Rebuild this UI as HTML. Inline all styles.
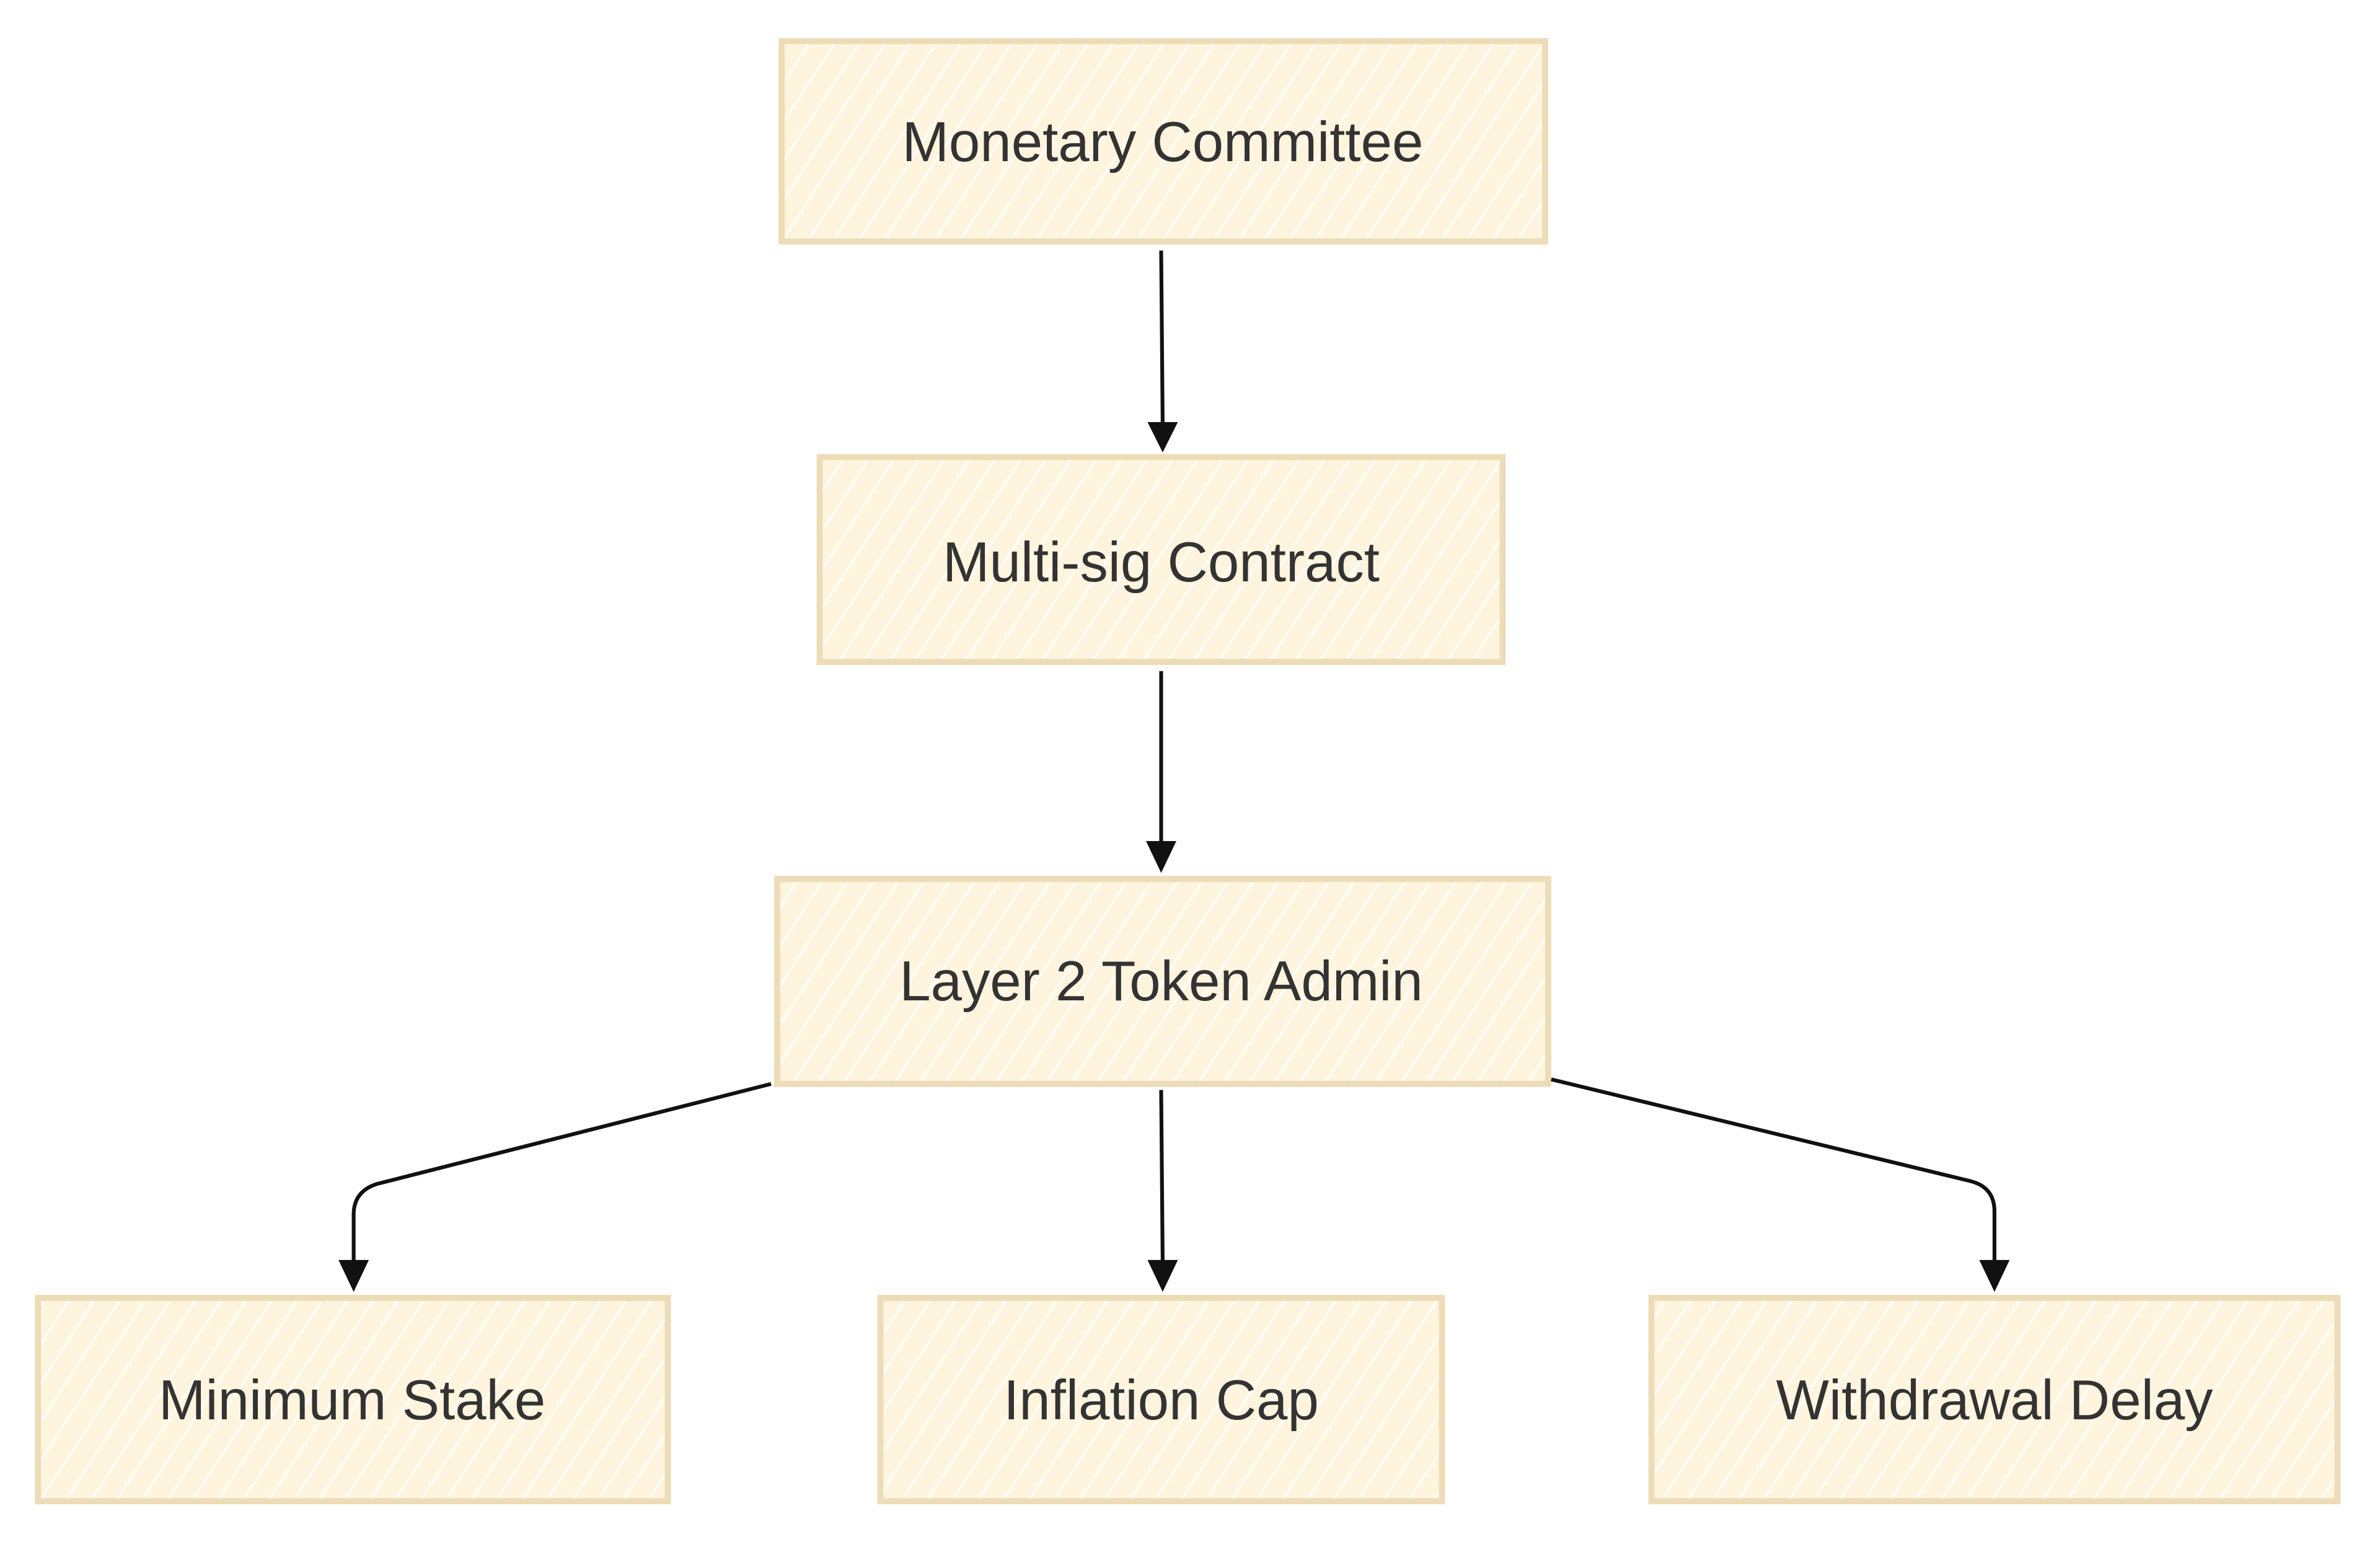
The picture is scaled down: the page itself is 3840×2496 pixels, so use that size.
<!DOCTYPE html>
<html><head><meta charset="utf-8"><style>html,body{margin:0;padding:0;background:#fff}svg{display:block}</style></head>
<body>
<svg width="3840" height="2496" viewBox="0 0 1568 1019" xmlns="http://www.w3.org/2000/svg">
<defs>
<pattern id="h" patternUnits="userSpaceOnUse" width="14" height="14" patternTransform="rotate(33)">
<rect width="14" height="14" fill="#fff4dd"/>
<line x1="0" y1="0" x2="0" y2="14" stroke="#ffffff" stroke-width="2.5"/>
</pattern>
</defs>
<g stroke="#ecdcb7" stroke-width="4" fill="url(#h)">
<rect x="515" y="27" width="503" height="132"/>
<rect x="540" y="301" width="450" height="135"/>
<rect x="512" y="579" width="508" height="135"/>
<rect x="25" y="855" width="415" height="134"/>
<rect x="580" y="855" width="370" height="134"/>
<rect x="1088" y="855" width="452" height="134"/>
</g>
<g font-family="'Liberation Sans',Arial,sans-serif" font-size="37" fill="#333" text-anchor="middle">
<text x="766" y="106">Monetary Committee</text>
<text x="765" y="383">Multi-sig Contract</text>
<text x="765" y="659">Layer 2 Token Admin</text>
<text x="232" y="935">Minimum Stake</text>
<text x="765" y="935">Inflation Cap</text>
<text x="1314" y="935">Withdrawal Delay</text>
</g>
<g stroke="#111" stroke-width="2.5" fill="none">
<path d="M765 165 L766 280"/>
<path d="M765 442 L765 556"/>
<path d="M765 718 L766 832"/>
<path d="M508 714 L248 780 Q233 785 233 800 L233 832"/>
<path d="M1022 711 L1298 778 Q1314 782 1314 798 L1314 832"/>
</g>
<g fill="#111">
<polygon points="756,278 776,278 766,298"/>
<polygon points="755,554 775,554 765,575"/>
<polygon points="756,830 776,830 766,851"/>
<polygon points="223,830 243,830 233,851"/>
<polygon points="1304,830 1324,830 1314,851"/>
</g>
</svg>
</body></html>
